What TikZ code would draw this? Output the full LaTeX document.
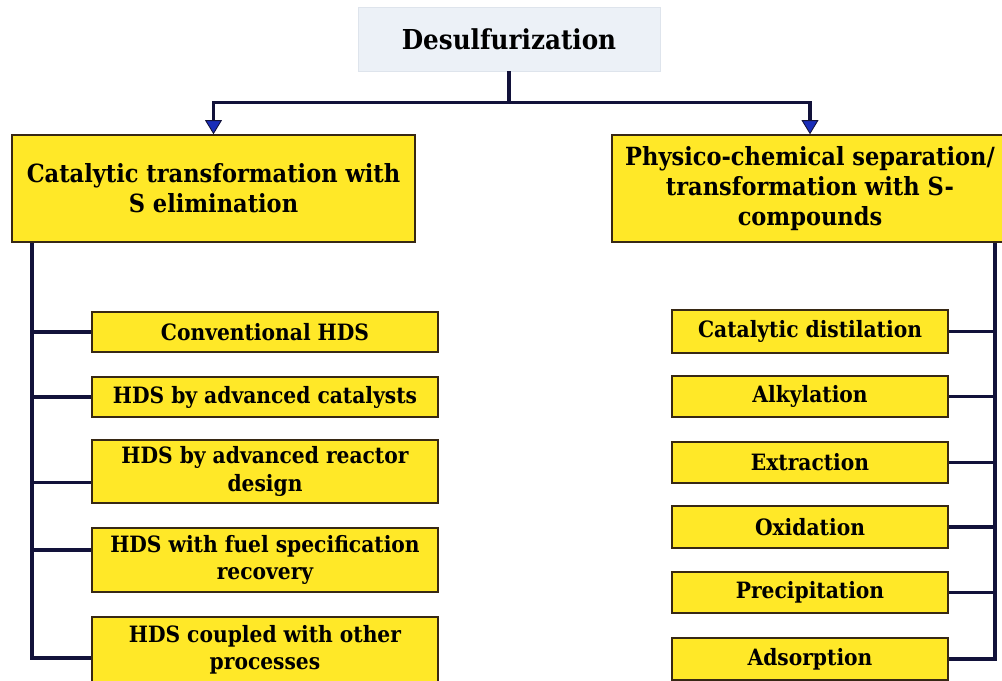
\documentclass[tikz,border=0pt]{standalone}
\usepackage{fontspec}
\setmainfont{DejaVu Serif Condensed}
\usetikzlibrary{arrows.meta,calc}
\definecolor{boxyellow}{RGB}{255,232,40}
\definecolor{boxedge}{RGB}{55,40,20}
\definecolor{linenavy}{RGB}{18,18,58}
\definecolor{tipblue}{RGB}{25,45,185}
\definecolor{topfill}{RGB}{236,241,247}
\definecolor{topedge}{RGB}{222,228,236}
\begin{document}
\begin{tikzpicture}[x=0.025cm,y=-0.025cm,
  wh/.style 2 args={minimum width=#1*0.025cm, minimum height=#2*0.025cm},
  ybox/.style={draw=boxedge, fill=boxyellow, line width=1.1pt, inner sep=0pt, align=center},
  mainbox/.style={ybox, font=\bfseries\fontsize{17.8}{21.5}\selectfont},
  subbox/.style={ybox, font=\bfseries\fontsize{16}{19.5}\selectfont},
  topbox/.style={draw=topedge, fill=topfill, line width=0.6pt, inner sep=0pt, font=\bfseries\fontsize{19.5}{23}\selectfont},
  conn/.style={draw=linenavy, line width=2.6pt},
  arr/.style={conn, -{Triangle[width=12pt,length=10pt,fill=tipblue,line width=0.6pt]}}
]
\useasboundingbox (0,0) rectangle (1002,680);

\node[topbox, wh={302}{64}] (top) at (509,39) {Desulfurization};

\node[mainbox, wh={403}{107}] (L) at (213.5,188.5) {Catalytic transformation with\\S elimination};
\node[mainbox, wh={396}{107}] (R) at (810,188.5) {Physico-chemical separation/\\transformation with S-\\compounds};

% left sub boxes
\node[subbox, wh={346}{40}] (l1) at (265,332) {Conventional HDS};
\node[subbox, wh={346}{40}] (l2) at (265,397) {HDS by advanced catalysts};
\node[subbox, wh={346}{63}] (l3) at (265,471.5) {HDS by advanced reactor\\design};
\node[subbox, wh={346}{64}] (l4) at (265,560) {HDS with fuel specification\\recovery};
\node[subbox, wh={346}{66}] (l5) at (265,650) {HDS coupled with other\\processes};

% right sub boxes
\node[subbox, wh={276}{43}] (r1) at (810,331.5) {Catalytic distilation};
\node[subbox, wh={276}{41}] (r2) at (810,396.5) {Alkylation};
\node[subbox, wh={276}{41}] (r3) at (810,462.5) {Extraction};
\node[subbox, wh={276}{42}] (r4) at (810,527) {Oxidation};
\node[subbox, wh={276}{41}] (r5) at (810,592.5) {Precipitation};
\node[subbox, wh={276}{42}] (r6) at (810,659) {Adsorption};

% top connectors
\coordinate (hub) at ($(top.south)+(0,31)$);
\draw[conn] (top.south) -- (hub);
\draw[arr] (hub) -| (L.north);
\draw[arr] (hub) -| (R.north);

% left trunk
\coordinate (tL) at ($(L.south west)+(21,0)$);
\coordinate (bl3) at ($(l3.west)+(0,11)$);
\coordinate (bl4) at ($(l4.west)+(0,-10)$);
\coordinate (bl5) at ($(l5.west)+(0,8)$);
\draw[conn] (tL) |- (bl5);
\draw[conn] (tL |- l1.west) -- (l1.west);
\draw[conn] (tL |- l2.west) -- (l2.west);
\draw[conn] (tL |- bl3) -- (bl3);
\draw[conn] (tL |- bl4) -- (bl4);

% right trunk
\coordinate (tR) at ($(R.south east)+(-14,0)$);
\draw[conn] (tR) |- (r6.east);
\draw[conn] (tR |- r1.east) -- (r1.east);
\draw[conn] (tR |- r2.east) -- (r2.east);
\draw[conn] (tR |- r3.east) -- (r3.east);
\draw[conn] (tR |- r4.east) -- (r4.east);
\draw[conn] (tR |- r5.east) -- (r5.east);
\end{tikzpicture}
\end{document}
